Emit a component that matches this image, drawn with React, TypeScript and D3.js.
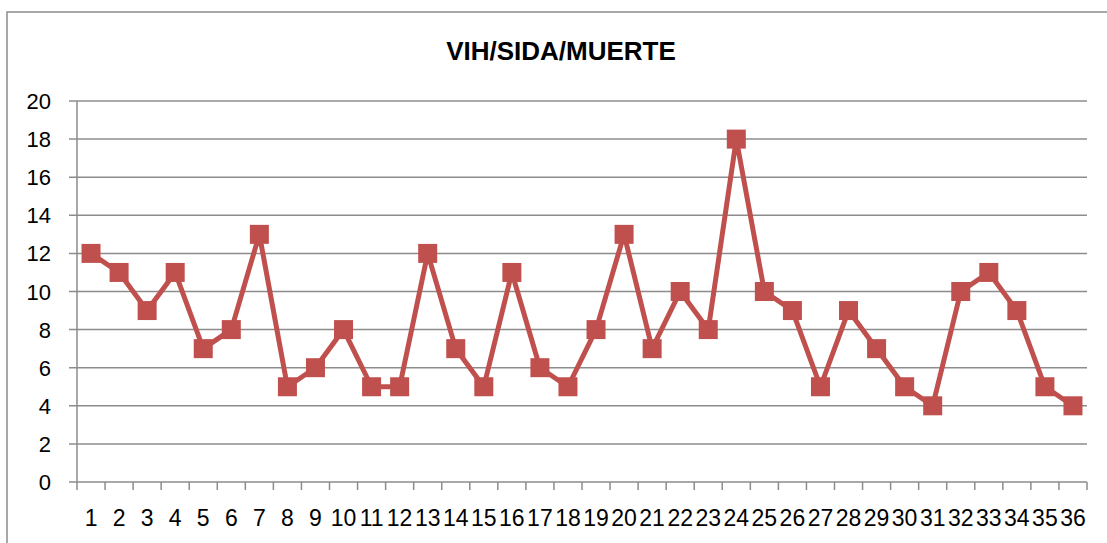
import * as d3 from 'd3';
import React from 'react';

// series: VIH/SIDA/MUERTE per category 1..36
const categories: string[] = d3.range(1, 37).map(String);
const values: number[] = [12, 11, 9, 11, 7, 8, 13, 5, 6, 8, 5, 5, 12, 7, 5, 11, 6, 5, 8, 13, 7, 10, 8, 18, 10, 9, 5, 9, 7, 5, 4, 10, 11, 9, 5, 4];
const yTicks: number[] = [0, 2, 4, 6, 8, 10, 12, 14, 16, 18, 20];
const title = 'VIH/SIDA/MUERTE';

const W = 1107;
const H = 543;
const margin = {top: 101, right: 20, bottom: 61, left: 77};
const red = '#C0504D';
const grid = '#8c8c8c';
const font = '"Liberation Sans", Arial, sans-serif';

const App = () => {
  const x = d3.scaleBand<string>()
    .domain(categories)
    .range([margin.left, W - margin.right]);
  const y = d3.scaleLinear()
    .domain([0, 20])
    .range([H - margin.bottom, margin.top]);

  const cx = (i: number) => (x(categories[i]) as number) + x.bandwidth() / 2;
  const line = d3.line<number>()
    .x((d, i) => cx(i))
    .y(d => y(d));

  const tickXs = categories.map(c => x(c) as number).concat([W - margin.right]);
  const ms = 19;

  return (
    <svg width={W} height={H} style={{position: 'absolute', left: 0, top: 0, background: '#fff'}}>
      <rect x={7} y={12} width={W + 10} height={H + 10} fill="#fff" stroke={grid} strokeWidth={1.5} />
      <text x={561} y={60} textAnchor="middle" fontFamily={font} fontWeight="bold" fontSize={26} fill="#000">
        {title}
      </text>
      {yTicks.map(t => (
        <g key={t}>
          <line x1={margin.left - 8} x2={W - margin.right} y1={y(t)} y2={y(t)} stroke={grid} strokeWidth={1.5} />
          <text x={51} y={y(t) + 8} textAnchor="end" fontFamily={font} fontSize={22} fill="#000">{t}</text>
        </g>
      ))}
      <line x1={margin.left} x2={margin.left} y1={margin.top} y2={H - margin.bottom} stroke={grid} strokeWidth={1.5} />
      {tickXs.map((tx, i) => (
        <line key={i} x1={tx} x2={tx} y1={H - margin.bottom} y2={H - margin.bottom + 8} stroke={grid} strokeWidth={1.5} />
      ))}
      {categories.map((c, i) => (
        <text key={c} x={cx(i)} y={526} textAnchor="middle" fontFamily={font} fontSize={23} fill="#000">
          {c}
        </text>
      ))}
      <path d={line(values) || ''} fill="none" stroke={red} strokeWidth={5} strokeLinejoin="round" />
      {values.map((v, i) => (
        <rect key={i}
          x={cx(i) - ms / 2}
          y={y(v) - ms / 2}
          width={ms} height={ms} fill={red} />
      ))}
    </svg>
  );
};

export default App;
